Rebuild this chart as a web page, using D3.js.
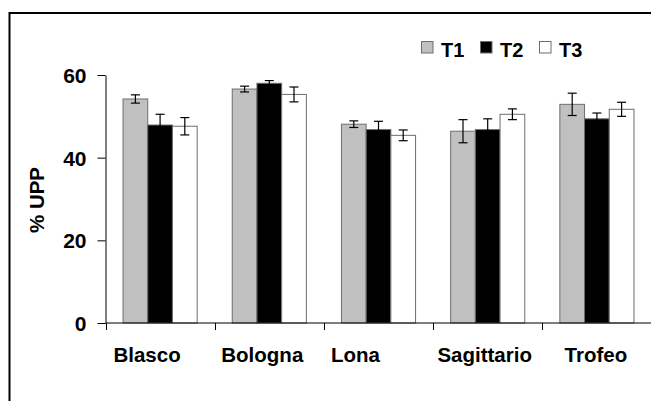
<!DOCTYPE html>
<html><head><meta charset="utf-8">
<script src="https://cdn.jsdelivr.net/npm/d3@7"></script>
<style>
html,body{margin:0;padding:0;background:#fff;}
svg{display:block;font-family:"Liberation Sans",Arial,sans-serif;font-weight:bold;}
</style></head>
<body><svg id="c" width="651" height="401"></svg>
<script>
const categories = ["Blasco","Bologna","Lona","Sagittario","Trofeo"];
const series = ["T1","T2","T3"];
const T1 = [54.2, 56.6, 48.1, 46.4, 52.9];
const T2 = [47.9, 58.0, 46.8, 46.8, 49.4];
const T3 = [47.6, 55.3, 45.4, 50.5, 51.7];
const T1err = [1.0, 0.7, 0.8, 2.8, 2.7];
const T2err = [2.6, 0.65, 2.0, 2.6, 1.4];
const T3err = [2.1, 1.8, 1.3, 1.3, 1.7];
const yTicks = [0, 20, 40, 60];
const yTitle = "% UPP";

// layout constants
const labelDx = [-13, -7, -23, -3, -1];
const colors = {T1:"#c0c0c0", T2:"#000000", T3:"#ffffff"};

const values = {T1, T2, T3};
const errs = {T1:T1err, T2:T2err, T3:T3err};

const svg = d3.select("#c");
svg.append("rect").attr("x",9.5).attr("y",13).attr("width",700).attr("height",500)
  .attr("fill","none").attr("stroke","#000").attr("stroke-width",2);

const x0 = d3.scaleBand().domain(categories).range([105.5, 651.5]).paddingInner(0).paddingOuter(0);
const x1 = d3.scaleBand().domain(series).range([0, x0.bandwidth()]).paddingInner(0).paddingOuter(0.71);
const y = d3.scaleLinear().domain([0,60]).range([323, 75]);

// bars
const g = svg.append("g");
categories.forEach((c,i)=>{
  series.forEach(s=>{
    const v = values[s][i];
    g.append("rect")
      .attr("x", x0(c)+x1(s)).attr("y", y(v))
      .attr("width", x1.bandwidth()).attr("height", y(0)-y(v))
      .attr("fill", colors[s]).attr("stroke","#6e6e6e").attr("stroke-width",1);
  });
});
// error bars
categories.forEach((c,i)=>{
  series.forEach(s=>{
    const v = values[s][i], e = errs[s][i];
    const cx = x0(c)+x1(s)+x1.bandwidth()/2;
    const eg = g.append("g").attr("stroke","#000").attr("stroke-width",1.2);
    eg.append("line").attr("x1",cx).attr("x2",cx).attr("y1",y(v+e)).attr("y2",y(v-e));
    eg.append("line").attr("x1",cx-4.5).attr("x2",cx+4.5).attr("y1",y(v+e)).attr("y2",y(v+e));
    eg.append("line").attr("x1",cx-4.5).attr("x2",cx+4.5).attr("y1",y(v-e)).attr("y2",y(v-e));
  });
});

// y axis
const ya = svg.append("g").attr("transform","translate(105.5,0)")
  .call(d3.axisLeft(y).tickValues(yTicks).tickSize(8).tickPadding(11).tickSizeOuter(0));
ya.select(".domain").attr("stroke","#000");
ya.selectAll("text").attr("font-size",21).attr("font-weight","bold").attr("fill","#000")
  .attr("font-family","Liberation Sans, Arial, sans-serif").attr("dy","0.36em");

// x axis
const xa = svg.append("g").attr("transform","translate(0,323)");
xa.append("line").attr("x1",105.5).attr("x2",651.5).attr("y1",0).attr("y2",0).attr("stroke","#000").attr("stroke-width",1.2);
const bounds = categories.map(c=>x0(c)).concat([x0.range()[1]]);
xa.selectAll("line.tk").data(bounds).enter().append("line").attr("class","tk")
  .attr("x1",d=>Math.round(d)+0.5).attr("x2",d=>Math.round(d)+0.5).attr("y1",0).attr("y2",7).attr("stroke","#000");
svg.selectAll("text.cat").data(categories).enter().append("text").attr("class","cat")
  .attr("x",(d,i)=>x0(d)+x0.bandwidth()/2+labelDx[i]).attr("y",361.5)
  .attr("text-anchor","middle").attr("font-size",20.5).text(d=>d);

// y title
svg.append("text").attr("transform","translate(44,200) rotate(-90)")
  .attr("text-anchor","middle").attr("font-size",20.5).text(yTitle);

// legend
const lx = [421, 480, 539];
series.forEach((s,i)=>{
  svg.append("rect").attr("x",lx[i]+0.5).attr("y",41.5).attr("width",11.5).attr("height",11.5)
    .attr("fill",colors[s]).attr("stroke","#6e6e6e").attr("stroke-width",1);
  svg.append("text").attr("x",lx[i]+20).attr("y",56.5).attr("font-size",20).text(s);
});
</script></body></html>
